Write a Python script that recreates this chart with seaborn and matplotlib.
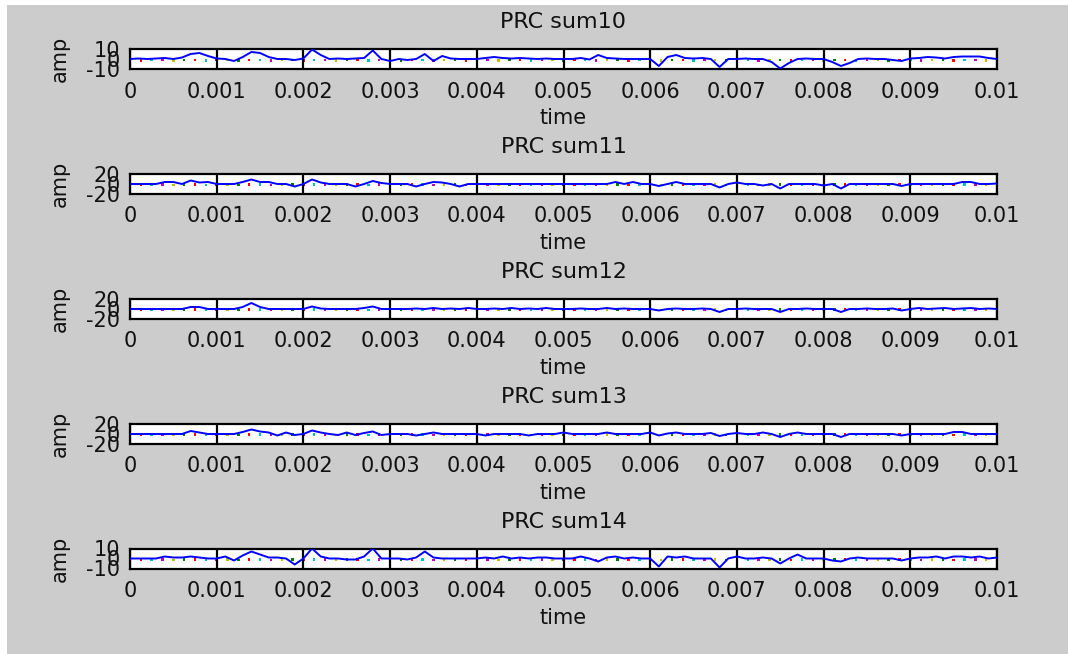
import numpy as np
import pandas as pd
import matplotlib
matplotlib.use("Agg")
import matplotlib.pyplot as plt
from matplotlib.patches import Rectangle
import seaborn as sns

# --- data (time step 0.0001 s) ---
time = np.linspace(0, 0.01, 101)

sum10 = [0, 0.5, 0, 0.5, 1, 0, 1.5, 5, 6, 3,
         0.5, 0, -2, 2, 7, 6, 2, 0, 0, -1,
         0.5, 9.5, 4, 0, 0.5, 0, 0.5, 1, 8.5, 0,
         -2, 0, -1, 0, 5, -2, 3, 0.5, 0, 0,
         0, 1, 2, 1, 0.5, 1, 0.5, 0, 0.5, 0,
         0, 0, 1, -0.5, 4, 1, 0.5, 0, 0, 0,
         0, -7, 2, 4, 1, 0.5, 1, 0, -8, 0,
         0, 0.5, 0, 0, -3, -9.5, -4, 0, 0.5, 0,
         0, -3, -7, -4, 0, 0.5, 0, 0, -1, -2,
         0.5, 1, 2, 1.5, 0.5, 2, 2.5, 2.5, 2.5, 1,
         0]

sum11 = [0, 0, 0, 0, 4, 4, 0, 7, 3, 4,
         0, 0, 0, 4, 9, 4, 4, 0, 0, -5,
         0, 9, 3, 0, 0, 0, -5, 0, 6, 2,
         0, 0, 0, -5, 0, 4, 3, 0, -5, 0,
         0, 0, 0, 0, 0, 0, 0, 0, 0, 0,
         0, 0, 0, 0, 0, 0, 4, 0, 4, 0,
         0, -4, 0, 4, 0, 0, 0, 0, -7, 0,
         3, 0, 0, -3, 0, -9, 0, 0, 0, 0,
         -3, 0, -9, 0, 0, 0, 0, 0, 0, -4,
         0, 0, 0, 0, 0, 0, 4, 4, 0, 0,
         1]

sum12 = [0, 0, 0, 0, 0, 0, 0, 4, 4, 0,
         0, 0, 0, 4, 12, 4, 0, 0, 0, 0,
         0, 5, 1, 0, 0, 0, 0, 2, 5, 0,
         0, 0, 0, 1, 0, 2, 0, 1, 0, 2,
         0, 0, 1, 0, 2, 0, 1, 0, 2, 0,
         0, 0, 1, 0, 0, 2, 0, 1, 0, 0,
         0, -3, 0, 1, 0, 0, 1, 0, -6, 0,
         0, 1, 0, 0, 0, -6, 0, 0, 1, 0,
         0, 0, -6, 0, 0, 1, 0, 0, 1, -3,
         0, 2, 0, 1, 2, 0, 1, 2, 0, 1,
         0]

sum13 = [0, 0, 0, 0, 0, 0, 0, 6, 3, 0,
         0, 0, 0, 4, 9, 5, 3, -3, 3, -2,
         0, 7, 3, 0, -2, 3, -2, 2, 5, -2,
         0, 0, 0, -3, 0, 3, 0, 0, 0, 0,
         0, -3, 0, 0, 0, 0, -3, 0, 0, 0,
         3, 0, 0, 0, 0, 3, 0, 0, 0, 0,
         3, -3, 1, 3, 0, 0, 0, 2, -4, 0,
         2, 0, 0, 3, 0, -6, 0, 3, 0, 0,
         0, 0, -6, 0, 0, 0, 0, 0, 0, -3,
         0, 0, 0, 0, 0, 4, 4, 0, 0, 0,
         0]

sum14 = [0, 0, 0, 0, 2, 1, 1, 2, 1, 0,
         0, 2, -2, 3, 7, 4, 1, 1, 0, -6,
         0, 10, 2, 0, 0, -1, -1, 2, 10, 0,
         0, 0, -1, 1, 7, 1, 0, 0, 0, 0,
         0, 1, 0, 2, 0, 1, 0, 1, 1, 0,
         0, 0, 2, 0, -3, 1, 2, 0, 1, 0,
         0, -8, 2, 1, 2, 0, 0, 0, -9, 0,
         2, 0, 0, 1, 0, -5, 0, 4, 0, 0,
         0, -2, -3, 0, 1, 0, 0, 0, 0, -2,
         0, 1, 1, 2, 0, 2, 2, 1, 2, 0,
         1]

# coloured dots of the other (dotted) traces, shared by every panel
dot_time = np.linspace(0, 0.01, 81)
dot_amp = [-1.0, -1.5, -1.0, -1.0, -1.5, -1.0, -1.0, -1.5, -1.0, -1.0,
           -1.5, -1.0, -1.0, -1.5, -1.0, -1.0, -1.5, -1.0, -1.0, -1.5,
           -1.0, -1.0, -1.5, -1.0, -1.0, -1.5, -1.0, -1.0, -1.5, -1.0,
           -1.0, -1.5, -1.0, -1.0, -1.5, -1.0, -1.0, -1.5, -1.0, -1.0,
           -1.5, -1.0, -1.0, -1.5, -1.0, -1.0, -1.5, -1.0, -1.0, -1.5,
           -1.0, -1.0, -1.5, -1.0, -1.0, -1.5, -1.0, -1.0, -1.5, -1.0,
           -1.0, -1.5, -1.0, -1.0, -1.5, -1.0, -1.0, -1.5, -1.0, -1.0,
           -1.5, -1.0, -1.0, -1.5, -1.0, -1.0, -1.5, -1.0, -1.0, -1.5,
           -1.0]

titles = ["PRC sum10", "PRC sum11", "PRC sum12", "PRC sum13", "PRC sum14"]
series = [sum10, sum11, sum12, sum13, sum14]
yticks = [[-10, 0, 10], [-20, 0, 20], [-20, 0, 20], [-20, 0, 20], [-10, 0, 10]]
xticks = [0, 0.001, 0.002, 0.003, 0.004, 0.005, 0.006, 0.007, 0.008, 0.009, 0.01]
xticklabels = ["0", "0.001", "0.002", "0.003", "0.004", "0.005",
               "0.006", "0.007", "0.008", "0.009", "0.01"]

sns.set_style("white")
plt.rcParams['font.family'] = ['DejaVu Sans']

W, H = 1068, 654
fig = plt.figure(figsize=(W / 100, H / 100), dpi=100)
fig.patch.set_facecolor('white')
fig.patches.append(Rectangle((7 / W, 0), 1, (H - 5) / H, transform=fig.transFigure,
                             facecolor='#cccccc', edgecolor='none', zorder=-10))

dot_colors = ['g', 'r', 'c', 'm', 'y']
dots = pd.DataFrame({'t': dot_time, 'amp': dot_amp,
                     'c': [dot_colors[i % 5] for i in range(len(dot_time))]})

left, right = 130, 997
tops = [49, 174, 299, 424, 548.5]
ax_h = 20

for k in range(5):
    ax = fig.add_axes([left / W, 1 - (tops[k] + ax_h) / H, (right - left) / W, ax_h / H])
    ax.set_facecolor('white')
    sns.scatterplot(data=dots, x='t', y='amp', hue='c', palette={c: c for c in dot_colors},
                    marker='s', s=3, linewidth=0, legend=False, ax=ax, zorder=2)
    sns.lineplot(x=time, y=series[k], color='#0000ff', linewidth=1.4, ax=ax, zorder=3)
    lim = yticks[k][-1]
    ax.set_ylim(-lim, lim)
    ax.set_xlim(0, 0.01)
    ax.set_yticks(yticks[k])
    ax.set_yticklabels([str(v) for v in yticks[k]])
    ax.set_xticks(xticks)
    ax.set_xticklabels(xticklabels)
    ax.grid(axis='x', color='black', linewidth=1.6, linestyle='-')
    ax.grid(axis='y', visible=False)
    ax.set_axisbelow(False)
    for sp in ax.spines.values():
        sp.set_visible(True)
        sp.set_color('black')
        sp.set_linewidth(1.6)
    ax.tick_params(axis='both', length=0, labelsize=15, colors='#111111')
    ax.tick_params(axis='x', pad=9)
    ax.tick_params(axis='y', pad=7)
    ax.set_title(titles[k], fontsize=16, pad=15, color='#111111')
    ax.set_xlabel('time', fontsize=15, labelpad=5, color='#111111')
    ax.set_ylabel('amp', fontsize=15, color='#111111')
    ax.yaxis.set_label_coords(-0.069, 0.5)

fig.savefig('out.png', dpi=100, facecolor=fig.get_facecolor())
